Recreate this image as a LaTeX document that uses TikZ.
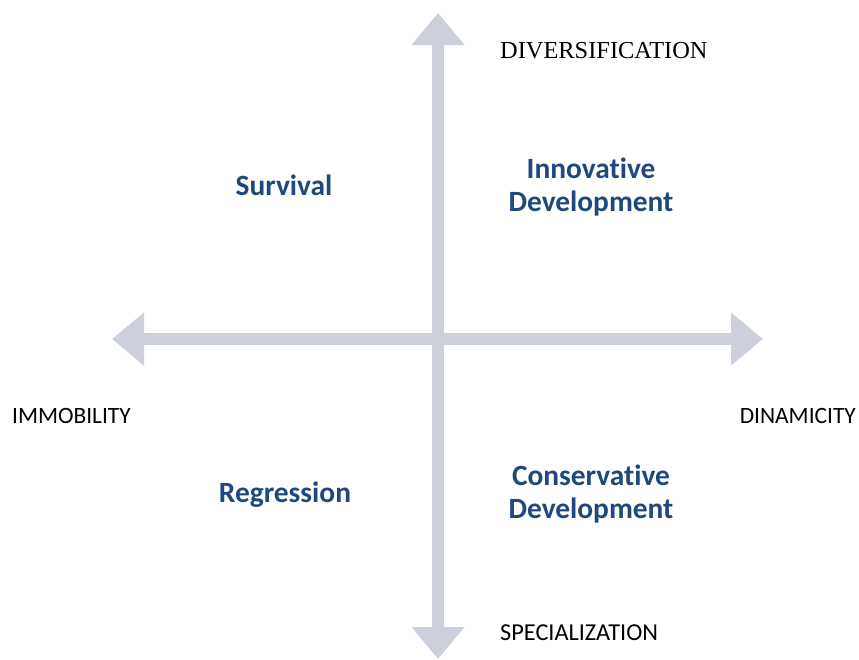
\documentclass[tikz,border=0pt]{standalone}
\usepackage{fontspec}
\setmainfont{Carlito}[Ligatures=NoCommon]
\newfontfamily\serifaxis{Liberation Serif}
\usetikzlibrary{arrows.meta}
\definecolor{axisgray}{HTML}{CDD0DA}
\definecolor{quadblue}{HTML}{1F497D}
\tikzset{
  axis/.style={draw=axisgray, line width=12pt,
    arrows={Triangle[length=32pt,width=51pt,fill=axisgray]-Triangle[length=32pt,width=51pt,fill=axisgray]}},
  quad/.style={font=\fontsize{29.4}{33}\selectfont\bfseries, text=quadblue, align=center, inner sep=0pt},
  axislabel/.style={font=\fontsize{23.4}{26}\selectfont, text=black, inner sep=0pt},
}
\begin{document}
\begin{tikzpicture}[x=1pt,y=-1pt]
  \useasboundingbox (0,0) rectangle (859,659);
  % axis end points
  \coordinate (top) at (438,13);
  \coordinate (bottom) at (438,659);
  \coordinate (left) at (112,339);
  \coordinate (right) at (763,339);
  \draw[axis] (left) -- (right);
  \draw[axis] (bottom) -- (top);
  % axis labels
  \node[axislabel, font=\serifaxis\fontsize{24.4}{27}\selectfont, anchor=base west] (div) at (500,58) {DIVERSIFICATION};
  \node[axislabel, font=\fontsize{24.3}{27}\selectfont, anchor=base west] (spec) at (500,640) {SPECIALIZATION};
  \node[axislabel, anchor=base west] (imm) at (12,423) {IMMOBILITY};
  \node[axislabel, anchor=base east] (din) at (856,423) {DINAMICITY};
  % quadrant labels (base anchor sits on the last line)
  \node[quad, anchor=base] (surv) at (284,195) {Survival};
  \node[quad, anchor=base] (innov) at (591,211) {Innovative\\Development};
  \node[quad, anchor=base] (regr) at (285,502) {Regression};
  \node[quad, anchor=base] (cons) at (591,518) {Conservative\\Development};
\end{tikzpicture}
\end{document}
